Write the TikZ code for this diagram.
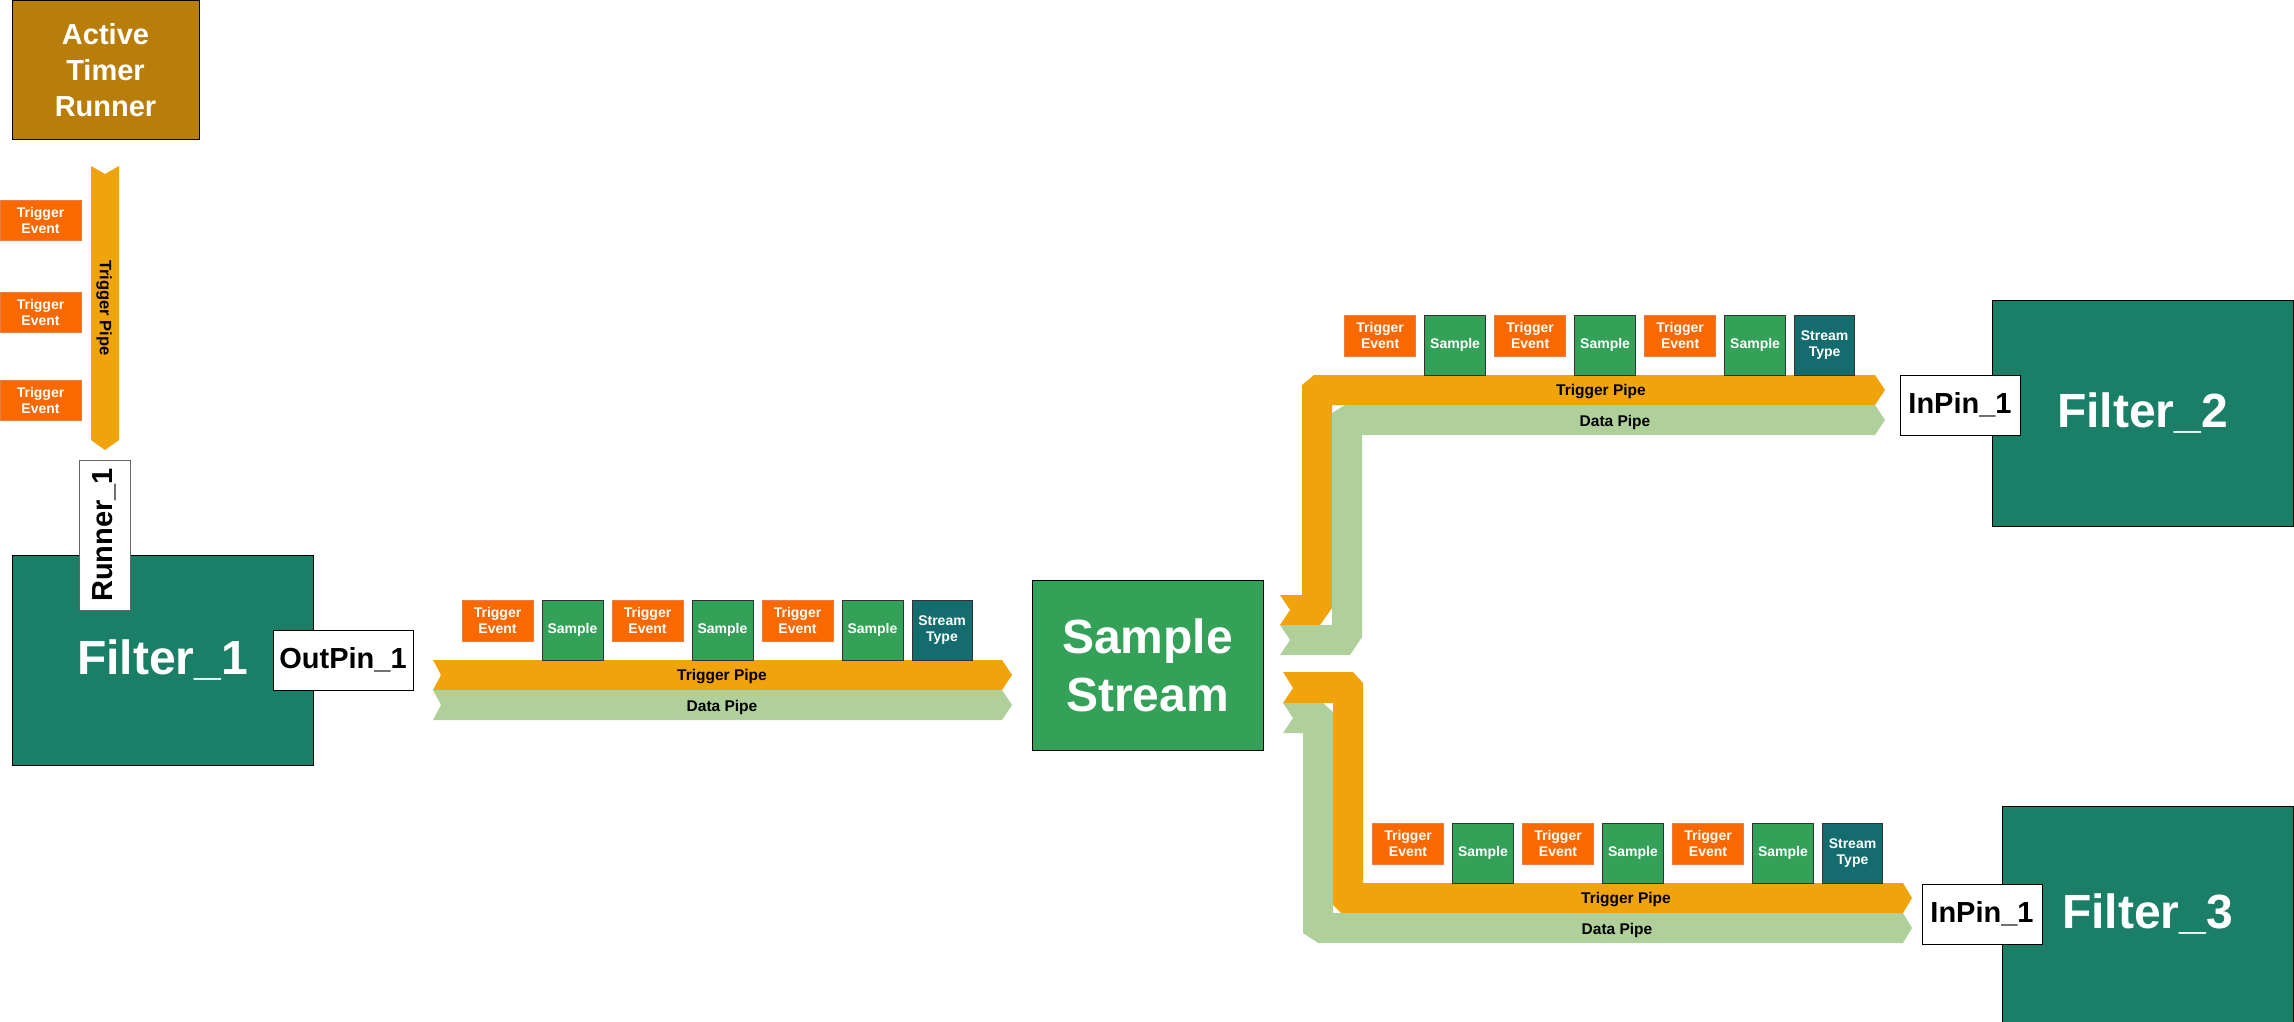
\documentclass[tikz,border=0pt]{standalone}
\usepackage{fontspec}
\setmainfont{Liberation Sans}
\definecolor{atrc}{RGB}{185,125,10}
\definecolor{filtc}{RGB}{27,127,103}
\definecolor{smpc}{RGB}{51,161,87}
\definecolor{styc}{RGB}{20,108,110}
\definecolor{tevc}{RGB}{250,104,0}
\definecolor{tevbc}{RGB}{232,125,70}
\definecolor{pipeo}{RGB}{240,163,10}
\definecolor{pipeg}{RGB}{175,208,155}
\newcommand\payloadrow[3]{%
  \node[tevbox] (#1te1) at (#2,#3) {Trigger\\Event};
  \node[smpbox] (#1s1) at ({#2+80},#3) {Sample};
  \node[tevbox] (#1te2) at ({#2+150},#3) {Trigger\\Event};
  \node[smpbox] (#1s2) at ({#2+230},#3) {Sample};
  \node[tevbox] (#1te3) at ({#2+300},#3) {Trigger\\Event};
  \node[smpbox] (#1s3) at ({#2+380},#3) {Sample};
  \node[stybox] (#1st) at ({#2+450},#3) {Stream\\Type};
}
\begin{document}
\begin{tikzpicture}[x=1pt,y=-1pt,
  box/.style={rectangle, anchor=north west, inner sep=0pt, outer sep=0pt, line width=1pt, align=center},
  small/.style={font=\fontsize{14}{16}\selectfont\bfseries},
  tevbox/.style={box, small, draw=tevbc, fill=tevc, text=white, minimum width=71pt, minimum height=41pt},
  smpbox/.style={box, small, draw=black!80, fill=smpc, text=white, minimum width=61pt, minimum height=60pt},
  stybox/.style={box, small, draw=black!80, fill=styc, text=white, minimum width=60pt, minimum height=60pt},
  pinbox/.style={box, draw=black, fill=white, font=\fontsize{29}{33}\selectfont\bfseries},
  bigbox/.style={box, draw=black, font=\fontsize{48}{58}\selectfont\bfseries, text=white},
  pipelbl/.style={font=\fontsize{15.5}{17}\selectfont\bfseries, inner sep=0pt},
  opipe/.style={fill=pipeo},
  gpipe/.style={fill=pipeg}]

\useasboundingbox (0,0) rectangle (2294,1022);

% ---------- pipes ----------
% vertical trigger pipe
\fill[opipe] (91,166) -- (105,174) -- (119,166) -- (119,440) -- (105,450) -- (91,440) -- cycle;
% main pipes
\fill[opipe] (433,660) -- (1002,660) -- (1012,675) -- (1002,690) -- (433,690) -- (441,675) -- cycle;
\fill[gpipe] (433,690) -- (1002,690) -- (1012,705) -- (1002,720) -- (433,720) -- (441,705) -- cycle;
% upper branch
\fill[opipe] (1280,595) -- (1302,595) -- (1302,385) -- (1314,375) -- (1875,375) -- (1885,390)
  -- (1875,405) -- (1332,405) -- (1332,608) -- (1320,625) -- (1280,625) -- (1290,610) -- cycle;
\fill[gpipe] (1280,625) -- (1332,625) -- (1332,413) -- (1345,405) -- (1875,405) -- (1885,420)
  -- (1875,435) -- (1362,435) -- (1362,637) -- (1350,655) -- (1280,655) -- (1290,640) -- cycle;
% lower branch
\fill[opipe] (1283,672) -- (1353,672) -- (1363,683) -- (1363,883) -- (1903,883) -- (1912,898)
  -- (1903,913) -- (1341,913) -- (1333,905) -- (1333,703) -- (1283,703) -- (1293,688) -- cycle;
\fill[gpipe] (1283,703) -- (1323,703) -- (1333,712) -- (1333,913) -- (1903,913) -- (1912,928)
  -- (1903,943) -- (1318,943) -- (1303,933) -- (1303,733) -- (1283,733) -- (1293,718) -- cycle;

% pipe labels
\node[pipelbl, rotate=-90, font=\fontsize{16.5}{18}\selectfont\bfseries] (vtp) at (104,308) {Trigger Pipe};
\node[pipelbl] (tp0) at (722,677) {Trigger Pipe};
\node[pipelbl] (dp0) at (722,707) {Data Pipe};
\node[pipelbl] (tp1) at (1601,392) {Trigger Pipe};
\node[pipelbl] (dp1) at (1615,422) {Data Pipe};
\node[pipelbl] (tp2) at (1626,900) {Trigger Pipe};
\node[pipelbl] (dp2) at (1617,930) {Data Pipe};

% ---------- blocks ----------
\node[box, draw=black, fill=atrc, text=white, minimum width=187pt, minimum height=139pt,
  font=\fontsize{29}{36}\selectfont\bfseries] (atr) at (12,1) {Active\\Timer\\Runner};

\node[tevbox, minimum width=81pt, minimum height=40pt] (lte1) at (0,200) {Trigger\\Event};
\node[tevbox, minimum width=81pt, minimum height=40pt] (lte2) at (0,292) {Trigger\\Event};
\node[tevbox, minimum width=81pt, minimum height=40pt] (lte3) at (0,380) {Trigger\\Event};

\node[bigbox, fill=filtc, minimum width=301pt, minimum height=210pt] (f1) at (12,555) {Filter\_1};
\node[pinbox, draw=black!60, minimum width=51pt, minimum height=150pt] (run1) at (79,460) {\rotatebox{90}{Runner\_1}};
\node[pinbox, minimum width=140pt, minimum height=60pt] (out1) at (273,630) {OutPin\_1};

\payloadrow{m}{462}{600}
\payloadrow{u}{1344.6}{315}
\payloadrow{l}{1372.5}{823}

\node[bigbox, fill=smpc, minimum width=231pt, minimum height=170pt] (ss) at (1032,580) {Sample\\Stream};

\node[bigbox, fill=filtc, minimum width=301pt, minimum height=226pt] (f2) at (1992,300) {Filter\_2};
\node[pinbox, minimum width=120pt, minimum height=60pt] (in2) at (1900,375) {InPin\_1};

\node[bigbox, fill=filtc, minimum width=291pt, minimum height=216pt] (f3) at (2002,806) {Filter\_3};
\node[pinbox, minimum width=120pt, minimum height=60pt] (in3) at (1922,884) {InPin\_1};

\end{tikzpicture}
\end{document}
